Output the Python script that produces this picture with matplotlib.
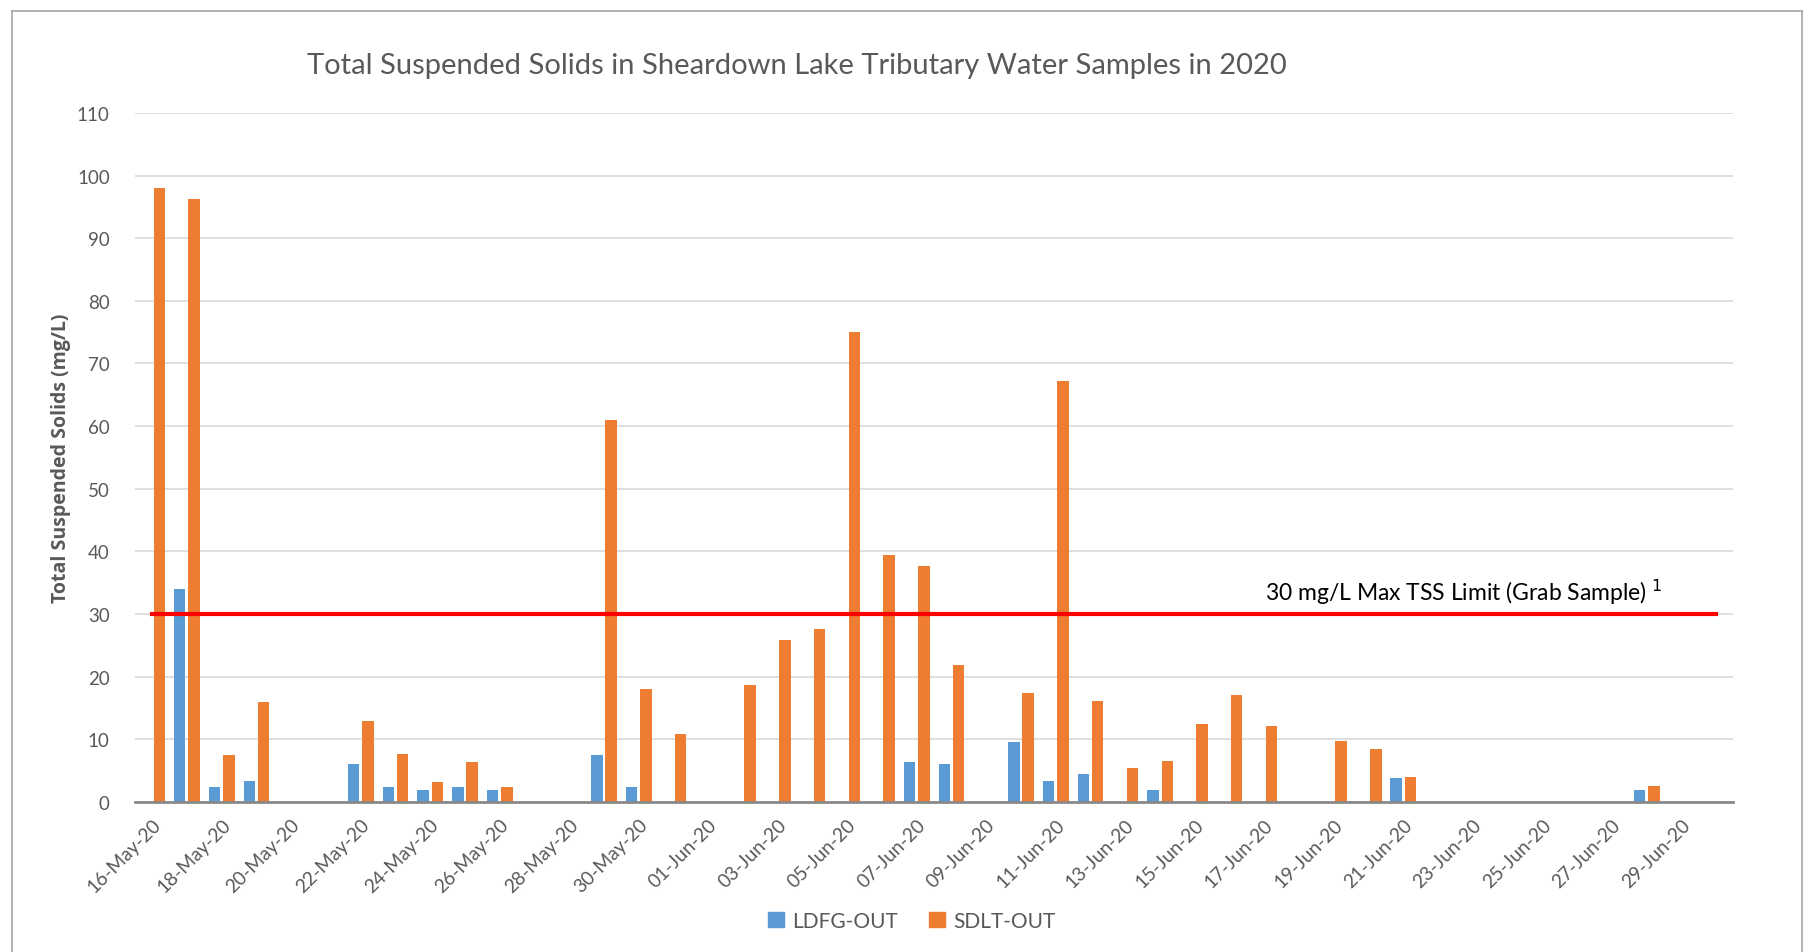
import numpy as np
import pandas as pd
import matplotlib
matplotlib.use("Agg")
import matplotlib.pyplot as plt
from matplotlib.lines import Line2D
from matplotlib.patches import Patch

nan = np.nan
dates = pd.date_range("2020-05-16", "2020-06-30", freq="D")
labels = [d.strftime("%d-%b-%y") for d in dates]

ldfg = [nan, 34.0, 2.3, 3.3, nan, nan, 6.0, 2.3, 1.9, 2.3, 1.9, nan, nan, 7.5, 2.4, nan,
        nan, nan, nan, nan, nan, nan, 6.4, 6.0, nan, 9.5, 3.3, 4.5, nan, 1.9, nan, nan,
        nan, nan, nan, nan, 3.8, nan, nan, nan, nan, nan, nan, 1.9, nan, nan]
sdlt = [98.0, 96.3, 7.5, 16.0, nan, nan, 12.9, 7.6, 3.1, 6.4, 2.3, nan, nan, 60.9, 18.0, 10.9,
        nan, 18.7, 25.8, 27.6, 75.0, 39.4, 37.6, 21.8, nan, 17.3, 67.2, 16.1, 5.4, 6.5, 12.5, 17.1,
        12.1, nan, 9.7, 8.5, 3.9, nan, nan, nan, nan, nan, nan, 2.5, nan, nan]
limit = 30

BLUE = "#5B9BD5"
ORANGE = "#ED7D31"
GRAY_TXT = "#595959"

plt.rcParams["font.family"] = ["Lato", "DejaVu Sans"]

fig = plt.figure(figsize=(18.06, 9.53), dpi=100)
ax = fig.add_axes([134.8 / 1806, 1 - 802.8 / 953, (1733.5 - 134.8) / 1806, (802.8 - 114) / 953])

x = np.arange(len(dates))
bw = 0.33
off = 0.207
ax.bar(x - off, ldfg, width=bw, color=BLUE, zorder=3, label="LDFG-OUT")
ax.bar(x + off, sdlt, width=bw, color=ORANGE, zorder=3, label="SDLT-OUT")
ax.plot([x[0], x[-1]], [limit, limit], color="#FF0000", lw=3, zorder=4)

ax.set_xlim(-0.5, len(dates) - 0.5)
ax.set_ylim(0, 110)
ax.set_yticks(np.arange(0, 111, 10))
ax.grid(axis="y", color="#D9D9D9", lw=1.2, zorder=0)
ax.set_axisbelow(True)
for s in ["top", "right", "left"]:
    ax.spines[s].set_visible(False)
ax.spines["bottom"].set_color("#898989")
ax.spines["bottom"].set_linewidth(2)
ax.spines["bottom"].set_zorder(5)

ax.set_xticks(x[::2])
ax.set_xticklabels(labels[::2], rotation=45, ha="right", rotation_mode="anchor",
                   fontsize=13.8, color=GRAY_TXT)
ax.tick_params(axis="x", length=0, pad=10)
ax.tick_params(axis="y", length=0, pad=18, labelsize=13.5, labelcolor=GRAY_TXT)

ax.set_ylabel("Total Suspended Solids (mg/L)", fontsize=14, fontweight="bold",
              color=GRAY_TXT, labelpad=4, family=["Open Sans", "DejaVu Sans"])

fig.text(797 / 1806, 1 - 66 / 953,
         "Total Suspended Solids in Sheardown Lake Tributary Water Samples in 2020",
         ha="center", va="center", fontsize=21, color=GRAY_TXT)

ax.text(37.75, 31.2, "30 mg/L Max TSS Limit (Grab Sample) $^{1}$", ha="center", va="bottom",
        fontsize=16.5, color="black")

handles = [Patch(color=BLUE, label="LDFG-OUT"), Patch(color=ORANGE, label="SDLT-OUT")]
fig.legend(handles=handles, loc="center", bbox_to_anchor=(912 / 1806, 1 - 922 / 953),
           ncol=2, frameon=False, fontsize=15, handlelength=0.75, handleheight=0.75,
           columnspacing=1.5, handletextpad=0.4, labelcolor=GRAY_TXT)

# outer chart border
bc = "#A6A6A6"
L, R, T = 12.5 / 1806, 1802.5 / 1806, 1 - 11.5 / 953
fig.add_artist(Line2D([L, R], [T, T], transform=fig.transFigure, color=bc, lw=1.2))
fig.add_artist(Line2D([L, L], [0, T], transform=fig.transFigure, color=bc, lw=1.2))
fig.add_artist(Line2D([R, R], [0, T], transform=fig.transFigure, color=bc, lw=1.2))

fig.savefig("out.png", dpi=100, facecolor="white")
